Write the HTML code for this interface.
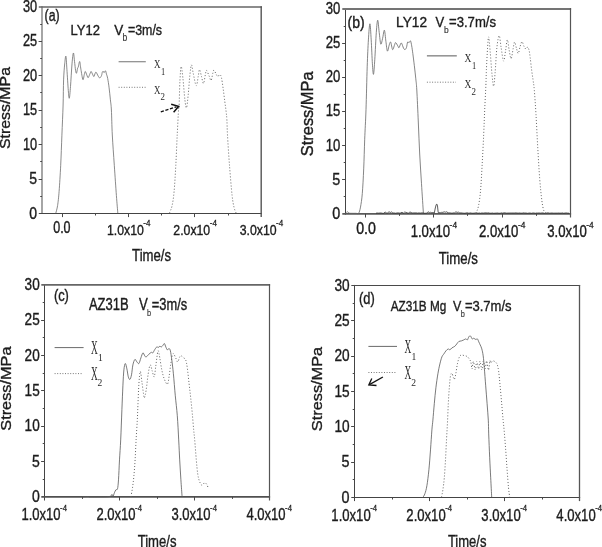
<!DOCTYPE html>
<html><head><meta charset="utf-8"><title>Stress-time curves</title>
<style>
html,body{margin:0;padding:0;background:#fff;}
body{width:602px;height:547px;overflow:hidden;}
svg{display:block;}
text{font-family:"Liberation Sans",sans-serif;fill:#1c1c1c;stroke:#1c1c1c;stroke-width:0.38px;}
text.s{stroke-width:0.15px;fill:#333;stroke:#333}
text.x{font-family:"Liberation Serif",serif;fill:#2a2a2a;stroke:none;}
text.s2{stroke-width:0.3px;}
</style></head><body>
<svg width="602" height="547" viewBox="0 0 602 547">
<rect width="602" height="547" fill="#fff"/>
<path d="M42.00,6.15V214.05" stroke="#6a6a6a" stroke-width="1.2" fill="none"/>
<path d="M38.80,213.50H261.90" stroke="#444" stroke-width="1.1" fill="none"/>
<path d="M38.80,6.90H261.90" stroke="#666" stroke-width="1.5" fill="none"/>
<path d="M261.20,6.15V217.10" stroke="#555" stroke-width="1.4" fill="none"/>
<path d="M62.50,213.50v3.6M128.50,213.50v3.6M194.50,213.50v3.6M95.50,213.50v2.0M161.50,213.50v2.0M228.50,213.50v2.0M42.00,179.50h-3.4M42.00,144.50h-3.4M42.00,110.50h-3.4M42.00,75.50h-3.4M42.00,41.50h-3.4M42.00,196.50h-1.8M42.00,161.50h-1.8M42.00,127.50h-1.8M42.00,92.50h-1.8M42.00,58.50h-1.8M42.00,24.50h-1.8" fill="none" stroke="#484848" stroke-width="1"/>
<text x="29.30" y="218.50" font-size="15.6" textLength="7.80" lengthAdjust="spacingAndGlyphs">0</text>
<text x="29.30" y="184.07" font-size="15.6" textLength="7.80" lengthAdjust="spacingAndGlyphs">5</text>
<text x="22.90" y="149.63" font-size="15.6" textLength="14.20" lengthAdjust="spacingAndGlyphs">10</text>
<text x="22.90" y="115.20" font-size="15.6" textLength="14.20" lengthAdjust="spacingAndGlyphs">15</text>
<text x="22.90" y="80.77" font-size="15.6" textLength="14.20" lengthAdjust="spacingAndGlyphs">20</text>
<text x="22.90" y="46.33" font-size="15.6" textLength="14.20" lengthAdjust="spacingAndGlyphs">25</text>
<text x="22.90" y="11.90" font-size="15.6" textLength="14.20" lengthAdjust="spacingAndGlyphs">30</text>
<text x="53.20" y="232.60" font-size="15.6" textLength="17.40" lengthAdjust="spacingAndGlyphs">0.0</text>
<text x="106.90" y="235.40" font-size="14.7" textLength="36.92" lengthAdjust="spacingAndGlyphs">1.0x10</text>
<text x="143.32" y="226.20" font-size="9.8" textLength="7.18" lengthAdjust="spacingAndGlyphs" class="s2">-4</text>
<text x="173.30" y="235.40" font-size="14.7" textLength="36.92" lengthAdjust="spacingAndGlyphs">2.0x10</text>
<text x="209.72" y="226.20" font-size="9.8" textLength="7.18" lengthAdjust="spacingAndGlyphs" class="s2">-4</text>
<text x="239.70" y="235.40" font-size="14.7" textLength="36.92" lengthAdjust="spacingAndGlyphs">3.0x10</text>
<text x="276.12" y="226.20" font-size="9.8" textLength="7.18" lengthAdjust="spacingAndGlyphs" class="s2">-4</text>
<text x="132.10" y="261.20" font-size="15.6" textLength="39.00" lengthAdjust="spacingAndGlyphs">Time/s</text>
<text transform="translate(9.90,149.00) rotate(-90) scale(1,0.88)" font-size="15.6" textLength="82.00" lengthAdjust="spacingAndGlyphs">Stress/MPa</text>
<text x="44.60" y="20.60" font-size="15.6" textLength="15.10" lengthAdjust="spacingAndGlyphs">(a)</text>
<text x="70.50" y="34.80" font-size="14.8" textLength="29.40" lengthAdjust="spacingAndGlyphs">LY12</text>
<text x="114.30" y="34.80" font-size="14.8" textLength="9.00" lengthAdjust="spacingAndGlyphs">V</text>
<text x="122.60" y="40.60" font-size="10.2" textLength="4.70" lengthAdjust="spacingAndGlyphs" class="s">b</text>
<text x="127.90" y="34.80" font-size="14.8" textLength="34.20" lengthAdjust="spacingAndGlyphs">=3m/s</text>
<path d="M118.6,61.7H145.8" stroke="#8a8a8a" stroke-width="1.2"/>
<path d="M118.6,87.3H145.8" stroke="#777" stroke-width="1.0" stroke-dasharray="1 1.6"/>
<text class="x" transform="translate(154.00,68.20) scale(0.72,1.0)" font-size="12.5">X</text>
<text class="x" transform="translate(160.90,74.70) scale(0.8,1.05)" font-size="10.5">1</text>
<text class="x" transform="translate(154.00,93.50) scale(0.72,1.0)" font-size="12.5">X</text>
<text class="x" transform="translate(160.40,100.10) scale(0.85,1.05)" font-size="10.5">2</text>
<path d="M55.80,213.20 C56.10,211.92 57.05,209.13 57.60,205.50 C58.15,201.87 58.58,198.10 59.10,191.40 C59.62,184.70 60.23,174.67 60.70,165.30 C61.17,155.93 61.50,145.25 61.90,135.20 C62.30,125.15 62.82,114.22 63.10,105.00 C63.38,95.78 63.33,86.75 63.60,79.90 C63.87,73.05 64.32,67.85 64.70,63.90 C65.08,59.95 65.53,55.32 65.90,56.20 C66.27,57.08 66.50,63.48 66.90,69.20 C67.30,74.92 67.90,85.67 68.30,90.50 C68.70,95.33 68.93,98.87 69.30,98.20 C69.67,97.53 70.05,92.22 70.50,86.50 C70.95,80.78 71.52,69.48 72.00,63.90 C72.48,58.32 72.98,53.43 73.40,53.00 C73.82,52.57 74.13,58.37 74.50,61.30 C74.87,64.23 75.27,68.62 75.60,70.60 C75.93,72.58 76.17,73.60 76.50,73.20 C76.83,72.80 77.30,69.25 77.60,68.20 C77.90,67.15 77.95,68.02 78.30,66.90 C78.65,65.78 79.27,61.12 79.70,61.50 C80.13,61.88 80.37,66.18 80.90,69.20 C81.43,72.22 82.33,78.72 82.90,79.60 C83.47,80.48 83.90,75.85 84.30,74.50 C84.70,73.15 84.87,71.38 85.30,71.50 C85.73,71.62 86.42,74.18 86.90,75.20 C87.38,76.22 87.65,77.93 88.20,77.60 C88.75,77.27 89.70,74.22 90.20,73.20 C90.70,72.18 90.77,71.23 91.20,71.50 C91.63,71.77 92.35,73.97 92.80,74.80 C93.25,75.63 93.50,76.77 93.90,76.50 C94.30,76.23 94.82,73.90 95.20,73.20 C95.58,72.50 95.70,71.82 96.20,72.30 C96.70,72.78 97.60,75.17 98.20,76.10 C98.80,77.03 99.25,77.98 99.80,77.90 C100.35,77.82 101.07,76.60 101.50,75.60 C101.93,74.60 102.07,72.57 102.40,71.90 C102.73,71.23 103.22,71.48 103.50,71.60 C103.78,71.72 103.77,72.73 104.10,72.60 C104.43,72.47 105.12,70.58 105.50,70.80 C105.88,71.02 106.03,72.62 106.40,73.90 C106.77,75.18 107.25,76.18 107.70,78.50 C108.15,80.82 108.65,84.25 109.10,87.80 C109.55,91.35 110.02,96.10 110.40,99.80 C110.78,103.50 111.08,104.13 111.40,110.00 C111.72,115.87 111.82,125.78 112.30,135.00 C112.78,144.22 113.62,155.22 114.30,165.30 C114.98,175.38 115.82,187.55 116.40,195.50 C116.98,203.45 117.57,210.08 117.80,213.00" fill="none" stroke="#6c6c6c" stroke-width="0.8" stroke-linejoin="round"/>
<path d="M169.50,213.00 C169.93,211.77 171.33,209.18 172.10,205.60 C172.87,202.02 173.48,198.20 174.10,191.50 C174.72,184.80 175.28,174.78 175.80,165.40 C176.32,156.02 176.73,144.60 177.20,135.20 C177.67,125.80 178.28,113.80 178.60,109.00 C178.92,104.20 178.88,110.98 179.10,106.40 C179.32,101.82 179.55,88.13 179.90,81.50 C180.25,74.87 180.70,67.15 181.20,66.60 C181.70,66.05 182.28,72.67 182.90,78.20 C183.52,83.73 184.30,94.87 184.90,99.80 C185.50,104.73 185.95,108.63 186.50,107.80 C187.05,106.97 187.63,100.28 188.20,94.80 C188.77,89.32 189.35,79.88 189.90,74.90 C190.45,69.92 190.95,65.18 191.50,64.90 C192.05,64.62 192.42,69.73 193.20,73.20 C193.98,76.67 195.37,85.15 196.20,85.70 C197.03,86.25 197.65,79.18 198.20,76.50 C198.75,73.82 198.95,69.60 199.50,69.60 C200.05,69.60 200.83,74.18 201.50,76.50 C202.17,78.82 202.87,83.77 203.50,83.50 C204.13,83.23 204.80,77.08 205.30,74.90 C205.80,72.72 205.88,70.27 206.50,70.40 C207.12,70.53 208.23,74.03 209.00,75.70 C209.77,77.37 210.47,80.82 211.10,80.40 C211.73,79.98 212.32,74.90 212.80,73.20 C213.28,71.50 213.45,70.05 214.00,70.20 C214.55,70.35 215.47,73.05 216.10,74.10 C216.73,75.15 217.18,76.42 217.80,76.50 C218.42,76.58 219.20,74.45 219.80,74.60 C220.40,74.75 220.85,75.13 221.40,77.40 C221.95,79.67 222.53,84.18 223.10,88.20 C223.67,92.22 224.30,97.63 224.80,101.50 C225.30,105.37 225.75,108.32 226.10,111.40 C226.45,114.48 226.67,116.03 226.90,120.00 C227.13,123.97 227.07,127.63 227.50,135.20 C227.93,142.77 228.73,155.35 229.50,165.40 C230.27,175.45 231.33,188.47 232.10,195.50 C232.87,202.53 233.43,204.68 234.10,207.60 C234.77,210.52 235.77,212.10 236.10,213.00" fill="none" stroke="#666" stroke-width="1.0" stroke-dasharray="1 2"/>
<path d="M160.8,111.8L176.5,106.8" stroke="#111" stroke-width="1.4" stroke-dasharray="3.2 1.6" fill="none"/>
<path d="M171.2,104.3L178.6,106.4L173.6,112.3" stroke="#111" stroke-width="1.5" fill="none"/>
<path d="M345.50,8.05V214.70" stroke="#444" stroke-width="1.0" fill="none"/>
<path d="M342.30,213.90H571.10" stroke="#5a5a5a" stroke-width="1.6" fill="none"/>
<path d="M342.30,9.00H571.10" stroke="#747474" stroke-width="1.9" fill="none"/>
<path d="M570.50,8.05V217.50" stroke="#555" stroke-width="1.2" fill="none"/>
<path d="M365.50,213.90v3.6M433.50,213.90v3.6M502.50,213.90v3.6M399.50,213.90v2.0M467.50,213.90v2.0M536.50,213.90v2.0M345.50,179.50h-3.4M345.50,145.50h-3.4M345.50,111.50h-3.4M345.50,77.50h-3.4M345.50,43.50h-3.4M345.50,196.50h-1.8M345.50,162.50h-1.8M345.50,128.50h-1.8M345.50,94.50h-1.8M345.50,60.50h-1.8M345.50,26.50h-1.8" fill="none" stroke="#484848" stroke-width="1"/>
<text x="332.30" y="218.90" font-size="15.6" textLength="8.00" lengthAdjust="spacingAndGlyphs">0</text>
<text x="332.30" y="184.75" font-size="15.6" textLength="8.00" lengthAdjust="spacingAndGlyphs">5</text>
<text x="325.70" y="150.60" font-size="15.6" textLength="14.60" lengthAdjust="spacingAndGlyphs">10</text>
<text x="325.70" y="116.45" font-size="15.6" textLength="14.60" lengthAdjust="spacingAndGlyphs">15</text>
<text x="325.70" y="82.30" font-size="15.6" textLength="14.60" lengthAdjust="spacingAndGlyphs">20</text>
<text x="325.70" y="48.15" font-size="15.6" textLength="14.60" lengthAdjust="spacingAndGlyphs">25</text>
<text x="325.70" y="14.00" font-size="15.6" textLength="14.60" lengthAdjust="spacingAndGlyphs">30</text>
<text x="356.20" y="233.80" font-size="15.7" textLength="19.70" lengthAdjust="spacingAndGlyphs">0.0</text>
<text x="410.63" y="236.90" font-size="15.7" textLength="39.48" lengthAdjust="spacingAndGlyphs">1.0x10</text>
<text x="449.61" y="227.80" font-size="9.8" textLength="7.42" lengthAdjust="spacingAndGlyphs" class="s2">-4</text>
<text x="478.96" y="236.90" font-size="15.7" textLength="39.48" lengthAdjust="spacingAndGlyphs">2.0x10</text>
<text x="517.94" y="227.80" font-size="9.8" textLength="7.42" lengthAdjust="spacingAndGlyphs" class="s2">-4</text>
<text x="547.29" y="236.90" font-size="15.7" textLength="39.48" lengthAdjust="spacingAndGlyphs">3.0x10</text>
<text x="586.27" y="227.80" font-size="9.8" textLength="7.42" lengthAdjust="spacingAndGlyphs" class="s2">-4</text>
<text x="438.80" y="263.50" font-size="15.6" textLength="39.10" lengthAdjust="spacingAndGlyphs">Time/s</text>
<text transform="translate(312.50,156.15) rotate(-90) scale(1,1.03)" font-size="15.6" textLength="84.70" lengthAdjust="spacingAndGlyphs">Stress/MPa</text>
<text x="347.60" y="27.50" font-size="15.6" textLength="17.10" lengthAdjust="spacingAndGlyphs">(b)</text>
<text x="396.10" y="26.70" font-size="14.8" textLength="30.90" lengthAdjust="spacingAndGlyphs">LY12</text>
<text x="435.60" y="26.70" font-size="14.8" textLength="8.70" lengthAdjust="spacingAndGlyphs">V</text>
<text x="444.10" y="32.60" font-size="9.8" textLength="4.70" lengthAdjust="spacingAndGlyphs" class="s">b</text>
<text x="449.00" y="26.70" font-size="14.8" textLength="47.00" lengthAdjust="spacingAndGlyphs">=3.7m/s</text>
<path d="M426.9,55.8H456.8" stroke="#969696" stroke-width="1.6"/>
<path d="M426.9,82.2H456.0" stroke="#777" stroke-width="1.0" stroke-dasharray="1 1.6"/>
<text class="x" transform="translate(464.50,62.20) scale(0.76,1.0)" font-size="12.5">X</text>
<text class="x" transform="translate(472.10,69.20) scale(0.8,1.05)" font-size="10.5">1</text>
<text class="x" transform="translate(464.50,88.10) scale(0.76,1.0)" font-size="12.5">X</text>
<text class="x" transform="translate(471.40,95.10) scale(0.85,1.05)" font-size="10.5">2</text>
<path d="M346.30,212.60 C346.50,212.47 347.05,211.73 347.50,211.80 C347.95,211.87 348.42,212.75 349.00,213.00 C349.58,213.25 349.83,213.25 351.00,213.30 C352.17,213.35 354.73,213.30 356.00,213.30 C357.27,213.30 357.85,214.33 358.60,213.30 C359.35,212.27 359.88,210.40 360.50,207.10 C361.12,203.80 361.77,199.87 362.30,193.50 C362.83,187.13 363.30,177.93 363.70,168.90 C364.10,159.87 364.32,149.17 364.70,139.30 C365.08,129.43 365.58,121.78 366.00,109.70 C366.42,97.62 366.80,78.43 367.20,66.80 C367.60,55.17 367.95,47.07 368.40,39.90 C368.85,32.73 369.43,23.80 369.90,23.80 C370.37,23.80 370.78,33.23 371.20,39.90 C371.62,46.57 372.02,58.07 372.40,63.80 C372.78,69.53 373.10,75.05 373.50,74.30 C373.90,73.55 374.33,66.28 374.80,59.30 C375.27,52.32 375.82,38.92 376.30,32.40 C376.78,25.88 377.22,20.20 377.70,20.20 C378.18,20.20 378.68,28.42 379.20,32.40 C379.72,36.38 380.23,43.10 380.80,44.10 C381.37,45.10 382.00,40.72 382.60,38.40 C383.20,36.08 383.85,29.70 384.40,30.20 C384.95,30.70 385.40,37.92 385.90,41.40 C386.40,44.88 386.85,50.48 387.40,51.10 C387.95,51.72 388.65,46.60 389.20,45.10 C389.75,43.60 390.13,41.35 390.70,42.10 C391.27,42.85 391.95,49.17 392.60,49.60 C393.25,50.03 394.08,45.87 394.60,44.70 C395.12,43.53 395.17,42.40 395.70,42.60 C396.23,42.80 397.25,45.05 397.80,45.90 C398.35,46.75 398.55,48.00 399.00,47.70 C399.45,47.40 400.07,44.85 400.50,44.10 C400.93,43.35 401.10,42.53 401.60,43.20 C402.10,43.87 402.93,47.03 403.50,48.10 C404.07,49.17 404.50,49.72 405.00,49.60 C405.50,49.48 406.07,48.65 406.50,47.40 C406.93,46.15 407.17,42.90 407.60,42.10 C408.03,41.30 408.62,42.80 409.10,42.60 C409.58,42.40 410.07,40.35 410.50,40.90 C410.93,41.45 411.32,43.82 411.70,45.90 C412.08,47.98 412.37,50.17 412.80,53.40 C413.23,56.63 413.80,61.07 414.30,65.30 C414.80,69.53 415.38,74.68 415.80,78.80 C416.22,82.92 416.38,82.80 416.80,90.00 C417.22,97.20 417.82,111.33 418.30,122.00 C418.78,132.67 419.17,143.72 419.70,154.00 C420.23,164.28 420.88,173.82 421.50,183.70 C422.12,193.58 423.08,208.37 423.40,213.30" fill="none" stroke="#666" stroke-width="0.8" stroke-linejoin="round"/>
<path d="M376.00,213.18 L377.30,213.03 L378.60,213.12 L379.90,213.00 L381.20,212.99 L382.50,213.27 L383.80,213.29 L385.10,211.96 L386.40,212.89 L387.70,212.93 L389.00,211.71 L390.30,212.55 L391.60,211.96 L392.90,213.06 L394.20,212.98 L395.50,213.22 L396.80,212.98 L398.10,212.87 L399.40,213.04 L400.70,212.93 L402.00,212.23 L403.30,213.20 L404.60,212.09 L405.90,212.35 L407.20,212.82 L408.50,213.25 L409.80,211.92 L411.10,212.54 L412.40,212.94 L413.70,212.86 L415.00,212.94 L416.30,212.84 L417.60,213.10 L418.90,212.90 L420.20,213.08 L421.50,212.83 L422.80,212.86 L424.10,213.25 L425.40,213.23 L426.70,213.19 L428.00,211.76 L429.30,212.60 L430.60,212.30 L431.90,212.82 L433.20,212.49 L434.30,213.00 L435.30,208.00 L436.20,204.60 L436.90,204.10 L437.50,206.00 L438.20,212.50 L439.00,212.68 L440.30,212.74 L441.60,212.36 L442.90,212.37 L444.20,211.85 L445.50,212.21 L446.80,211.81 L448.10,212.87 L449.40,212.80 L450.70,212.96 L452.00,213.22 L453.30,212.87 L454.60,212.82 L455.90,211.85 L457.20,212.39 L458.50,212.16 L459.80,212.96 L461.10,212.88 L462.40,213.01 L463.70,213.16 L465.00,213.27 L466.30,212.87 L467.60,212.81 L468.90,213.26 L470.20,212.90 L471.50,213.09 L472.80,213.22 L474.10,213.15 L475.40,212.92 L476.70,212.86 L478.00,213.28 L479.30,212.99 L480.60,213.28 L481.90,212.94 L483.20,213.13 L484.50,212.86 L485.80,212.81 L487.10,213.05 L488.40,212.80 L489.70,213.15 L491.00,213.26 L492.30,213.00 L493.60,213.28 L494.90,213.20 L496.20,213.10 L497.50,212.99 L498.80,213.22 L500.10,213.28 L501.40,212.87 L502.70,213.14 L504.00,212.82 L505.30,212.85 L506.60,213.11 L507.90,213.07 L509.20,213.04 L510.50,212.98 L511.80,213.00 L513.10,213.02 L514.40,212.99 L515.70,212.83 L517.00,213.05 L518.30,213.08 L519.60,212.94 L520.90,213.18 L522.20,213.15 L523.50,212.81 L524.80,213.04 L526.10,213.03 L527.40,213.29 L528.70,213.09 L530.00,213.01 L531.30,213.29 L532.60,212.99 L533.90,212.98 L535.20,213.27 L536.50,212.99 L537.80,213.07 L539.10,212.96 L540.40,213.12 L541.70,212.95 L543.00,212.93 L544.30,213.29 L545.60,213.27 L546.90,212.96 L548.20,212.82 L549.50,213.17 L550.80,213.07 L552.10,213.00 L553.40,213.14 L554.70,213.12 L556.00,213.14 L557.30,213.12 L558.60,213.00 L559.90,213.15 L561.20,213.11 L562.50,212.91 L563.80,213.29 L565.10,213.02 L566.40,212.93 L567.70,213.14 L569.00,213.19" fill="none" stroke="#333" stroke-width="0.8"/>
<path d="M476.00,213.30 C476.42,212.07 477.75,209.60 478.50,205.90 C479.25,202.20 479.88,198.10 480.50,191.10 C481.12,184.10 481.67,173.37 482.20,163.90 C482.73,154.43 483.28,143.33 483.70,134.30 C484.12,125.27 484.33,117.92 484.70,109.70 C485.07,101.48 485.62,91.65 485.90,85.00 C486.18,78.35 486.12,76.07 486.40,69.80 C486.68,63.53 487.22,52.88 487.60,47.40 C487.98,41.92 488.27,36.15 488.70,36.90 C489.13,37.65 489.65,45.67 490.20,51.90 C490.75,58.13 491.43,68.58 492.00,74.30 C492.57,80.02 493.08,86.45 493.60,86.20 C494.12,85.95 494.55,79.27 495.10,72.80 C495.65,66.33 496.22,53.58 496.90,47.40 C497.58,41.22 498.50,35.70 499.20,35.70 C499.90,35.70 500.37,43.17 501.10,47.40 C501.83,51.63 502.85,60.60 503.60,61.10 C504.35,61.60 504.97,53.93 505.60,50.40 C506.23,46.87 506.80,39.90 507.40,39.90 C508.00,39.90 508.58,47.28 509.20,50.40 C509.82,53.52 510.45,58.85 511.10,58.60 C511.75,58.35 512.52,51.65 513.10,48.90 C513.68,46.15 514.02,42.10 514.60,42.10 C515.18,42.10 515.98,47.02 516.60,48.90 C517.22,50.78 517.72,53.78 518.30,53.40 C518.88,53.02 519.48,48.55 520.10,46.60 C520.72,44.65 521.33,41.70 522.00,41.70 C522.67,41.70 523.42,45.35 524.10,46.60 C524.78,47.85 525.52,49.12 526.10,49.20 C526.68,49.28 527.10,46.90 527.60,47.10 C528.10,47.30 528.67,48.62 529.10,50.40 C529.53,52.18 529.78,54.57 530.20,57.80 C530.62,61.03 531.12,66.05 531.60,69.80 C532.08,73.55 532.65,76.93 533.10,80.30 C533.55,83.67 533.82,84.28 534.30,90.00 C534.78,95.72 535.43,105.15 536.00,114.60 C536.57,124.05 537.08,136.02 537.70,146.70 C538.32,157.38 539.00,169.67 539.70,178.70 C540.40,187.73 541.20,195.55 541.90,200.90 C542.60,206.25 543.17,208.73 543.90,210.80 C544.63,212.87 545.90,212.88 546.30,213.30" fill="none" stroke="#666" stroke-width="1.0" stroke-dasharray="1 2"/>
<path d="M44.50,284.10V500.50" stroke="#444" stroke-width="1.0" fill="none"/>
<path d="M41.30,496.90H270.10" stroke="#505050" stroke-width="1.6" fill="none"/>
<path d="M41.30,284.90H270.10" stroke="#666" stroke-width="1.6" fill="none"/>
<path d="M269.50,284.10V500.50" stroke="#555" stroke-width="1.2" fill="none"/>
<path d="M119.50,496.90v3.6M194.50,496.90v3.6M82.50,496.90v2.0M157.50,496.90v2.0M232.50,496.90v2.0M44.50,461.50h-3.4M44.50,426.50h-3.4M44.50,390.50h-3.4M44.50,355.50h-3.4M44.50,320.50h-3.4M44.50,479.50h-1.8M44.50,443.50h-1.8M44.50,408.50h-1.8M44.50,373.50h-1.8M44.50,337.50h-1.8M44.50,302.50h-1.8" fill="none" stroke="#484848" stroke-width="1"/>
<text x="31.90" y="501.90" font-size="16.6" textLength="7.80" lengthAdjust="spacingAndGlyphs">0</text>
<text x="31.90" y="466.57" font-size="16.6" textLength="7.80" lengthAdjust="spacingAndGlyphs">5</text>
<text x="24.60" y="431.23" font-size="16.6" textLength="15.10" lengthAdjust="spacingAndGlyphs">10</text>
<text x="24.60" y="395.90" font-size="16.6" textLength="15.10" lengthAdjust="spacingAndGlyphs">15</text>
<text x="24.60" y="360.57" font-size="16.6" textLength="15.10" lengthAdjust="spacingAndGlyphs">20</text>
<text x="24.60" y="325.23" font-size="16.6" textLength="15.10" lengthAdjust="spacingAndGlyphs">25</text>
<text x="24.60" y="289.90" font-size="16.6" textLength="15.10" lengthAdjust="spacingAndGlyphs">30</text>
<text x="21.45" y="520.00" font-size="16.6" textLength="39.17" lengthAdjust="spacingAndGlyphs">1.0x10</text>
<text x="60.12" y="511.00" font-size="9.7" textLength="6.83" lengthAdjust="spacingAndGlyphs" class="s2">-4</text>
<text x="96.45" y="520.00" font-size="16.6" textLength="39.17" lengthAdjust="spacingAndGlyphs">2.0x10</text>
<text x="135.12" y="511.00" font-size="9.7" textLength="6.83" lengthAdjust="spacingAndGlyphs" class="s2">-4</text>
<text x="171.45" y="520.00" font-size="16.6" textLength="39.17" lengthAdjust="spacingAndGlyphs">3.0x10</text>
<text x="210.12" y="511.00" font-size="9.7" textLength="6.83" lengthAdjust="spacingAndGlyphs" class="s2">-4</text>
<text x="246.45" y="520.00" font-size="16.6" textLength="39.17" lengthAdjust="spacingAndGlyphs">4.0x10</text>
<text x="285.12" y="511.00" font-size="9.7" textLength="6.83" lengthAdjust="spacingAndGlyphs" class="s2">-4</text>
<text x="137.70" y="546.50" font-size="16.6" textLength="38.80" lengthAdjust="spacingAndGlyphs">Time/s</text>
<text transform="translate(11.20,430.70) rotate(-90) scale(1,0.88)" font-size="16.6" textLength="84.20" lengthAdjust="spacingAndGlyphs">Stress/MPa</text>
<text x="53.90" y="301.20" font-size="16.6" textLength="15.00" lengthAdjust="spacingAndGlyphs">(c)</text>
<text x="88.90" y="309.70" font-size="15.9" textLength="39.70" lengthAdjust="spacingAndGlyphs">AZ31B</text>
<text x="138.90" y="309.70" font-size="15.9" textLength="8.80" lengthAdjust="spacingAndGlyphs">V</text>
<text x="147.10" y="316.00" font-size="9.2" textLength="4.10" lengthAdjust="spacingAndGlyphs" class="s">b</text>
<text x="151.80" y="309.70" font-size="15.9" textLength="35.40" lengthAdjust="spacingAndGlyphs">=3m/s</text>
<path d="M54.6,347.6H83.6" stroke="#6a6a6a" stroke-width="1.0"/>
<path d="M54.6,373.6H82.0" stroke="#777" stroke-width="1.0" stroke-dasharray="1 1.6"/>
<text class="x" transform="translate(91.10,354.30) scale(0.72,1.42)" font-size="13">X</text>
<text class="x" transform="translate(97.90,361.30) scale(1.0,1.18)" font-size="9.6">1</text>
<text class="x" transform="translate(91.10,379.80) scale(0.72,1.42)" font-size="13">X</text>
<text class="x" transform="translate(97.40,386.30) scale(1.0,1.18)" font-size="9.6">2</text>
<path d="M82.00,496.90 C83.00,496.83 86.67,496.50 88.00,496.50 C89.33,496.50 88.00,496.83 90.00,496.90 C92.00,496.97 97.00,496.93 100.00,496.90 C103.00,496.87 106.17,496.87 108.00,496.70 C109.83,496.53 110.33,496.28 111.00,495.90 C111.67,495.52 111.67,494.30 112.00,494.40 C112.33,494.50 112.60,496.77 113.00,496.50 C113.40,496.23 113.92,493.92 114.40,492.80 C114.88,491.68 115.38,490.47 115.90,489.80 C116.42,489.13 117.07,490.47 117.50,488.80 C117.93,487.13 118.17,484.62 118.50,479.80 C118.83,474.98 119.13,466.55 119.50,459.90 C119.87,453.25 120.30,448.27 120.70,439.90 C121.10,431.53 121.53,418.72 121.90,409.70 C122.27,400.68 122.57,392.43 122.90,385.80 C123.23,379.17 123.50,373.62 123.90,369.90 C124.30,366.18 124.80,363.67 125.30,363.50 C125.80,363.33 126.40,366.68 126.90,368.90 C127.40,371.12 127.80,375.05 128.30,376.80 C128.80,378.55 129.37,379.73 129.90,379.40 C130.43,379.07 131.00,377.22 131.50,374.80 C132.00,372.38 132.33,367.45 132.90,364.90 C133.47,362.35 134.23,360.00 134.90,359.50 C135.57,359.00 136.23,361.23 136.90,361.90 C137.57,362.57 138.23,364.17 138.90,363.50 C139.57,362.83 140.23,359.67 140.90,357.90 C141.57,356.13 142.25,353.23 142.90,352.90 C143.55,352.57 144.25,355.23 144.80,355.90 C145.35,356.57 145.53,357.17 146.20,356.90 C146.87,356.63 147.93,355.07 148.80,354.30 C149.67,353.53 150.73,352.53 151.40,352.30 C152.07,352.07 152.23,353.37 152.80,352.90 C153.37,352.43 154.13,350.50 154.80,349.50 C155.47,348.50 156.23,347.23 156.80,346.90 C157.37,346.57 157.70,347.60 158.20,347.50 C158.70,347.40 159.27,346.40 159.80,346.30 C160.33,346.20 160.90,347.03 161.40,346.90 C161.90,346.77 162.30,346.05 162.80,345.50 C163.30,344.95 163.90,343.37 164.40,343.60 C164.90,343.83 165.30,345.85 165.80,346.90 C166.30,347.95 166.87,349.63 167.40,349.90 C167.93,350.17 168.50,348.33 169.00,348.50 C169.50,348.67 169.93,349.00 170.40,350.90 C170.87,352.80 171.30,356.08 171.80,359.90 C172.30,363.72 172.82,367.82 173.40,373.80 C173.98,379.78 174.65,388.82 175.30,395.80 C175.95,402.78 176.73,408.35 177.30,415.70 C177.87,423.05 178.30,432.53 178.70,439.90 C179.10,447.27 179.33,453.25 179.70,459.90 C180.07,466.55 180.50,473.63 180.90,479.80 C181.30,485.97 181.90,494.05 182.10,496.90" fill="none" stroke="#585858" stroke-width="0.8" stroke-linejoin="round"/>
<path d="M130.90,496.70 C131.17,495.22 132.00,491.28 132.50,487.80 C133.00,484.32 133.47,480.45 133.90,475.80 C134.33,471.15 134.73,465.88 135.10,459.90 C135.47,453.92 135.73,446.55 136.10,439.90 C136.47,433.25 137.00,425.70 137.30,420.00 C137.60,414.30 137.63,411.73 137.90,405.70 C138.17,399.67 138.50,389.50 138.90,383.80 C139.30,378.10 139.80,371.83 140.30,371.50 C140.80,371.17 141.37,378.08 141.90,381.80 C142.43,385.52 143.08,391.13 143.50,393.80 C143.92,396.47 143.95,398.47 144.40,397.80 C144.85,397.13 145.57,393.78 146.20,389.80 C146.83,385.82 147.53,378.05 148.20,373.90 C148.87,369.75 149.53,365.40 150.20,364.90 C150.87,364.40 151.53,368.92 152.20,370.90 C152.87,372.88 153.60,377.63 154.20,376.80 C154.80,375.97 155.27,369.72 155.80,365.90 C156.33,362.08 156.97,356.40 157.40,353.90 C157.83,351.40 158.00,350.23 158.40,350.90 C158.80,351.57 159.23,354.73 159.80,357.90 C160.37,361.07 161.07,366.42 161.80,369.90 C162.53,373.38 163.27,376.42 164.20,378.80 C165.13,381.18 166.57,384.70 167.40,384.20 C168.23,383.70 168.63,379.18 169.20,375.80 C169.77,372.42 170.27,367.38 170.80,363.90 C171.33,360.42 171.92,356.57 172.40,354.90 C172.88,353.23 173.15,353.40 173.70,353.90 C174.25,354.40 175.03,356.57 175.70,357.90 C176.37,359.23 177.03,362.07 177.70,361.90 C178.37,361.73 179.10,357.90 179.70,356.90 C180.30,355.90 180.63,355.73 181.30,355.90 C181.97,356.07 182.97,357.23 183.70,357.90 C184.43,358.57 185.10,358.23 185.70,359.90 C186.30,361.57 186.73,363.92 187.30,367.90 C187.87,371.88 188.53,378.82 189.10,383.80 C189.67,388.78 190.17,392.82 190.70,397.80 C191.23,402.78 191.80,408.32 192.30,413.70 C192.80,419.08 193.30,425.73 193.70,430.10 C194.10,434.47 194.27,434.93 194.70,439.90 C195.13,444.87 195.80,454.25 196.30,459.90 C196.80,465.55 197.20,470.32 197.70,473.80 C198.20,477.28 198.70,478.97 199.30,480.80 C199.90,482.63 200.73,484.13 201.30,484.80 C201.87,485.47 202.15,485.13 202.70,484.80 C203.25,484.47 203.95,482.90 204.60,482.80 C205.25,482.70 205.93,483.20 206.60,484.20 C207.27,485.20 208.27,488.03 208.60,488.80" fill="none" stroke="#666" stroke-width="1.0" stroke-dasharray="1 2"/>
<path d="M354.50,284.95V501.10" stroke="#444" stroke-width="1.0" fill="none"/>
<path d="M351.30,497.50H580.15" stroke="#444" stroke-width="1.2" fill="none"/>
<path d="M351.30,285.50H580.15" stroke="#4a4a4a" stroke-width="1.1" fill="none"/>
<path d="M579.50,284.95V501.10" stroke="#555" stroke-width="1.3" fill="none"/>
<path d="M429.50,497.50v3.6M504.50,497.50v3.6M392.50,497.50v2.0M467.50,497.50v2.0M542.50,497.50v2.0M354.50,462.50h-3.4M354.50,426.50h-3.4M354.50,391.50h-3.4M354.50,356.50h-3.4M354.50,320.50h-3.4M354.50,479.50h-1.8M354.50,444.50h-1.8M354.50,409.50h-1.8M354.50,373.50h-1.8M354.50,338.50h-1.8M354.50,303.50h-1.8" fill="none" stroke="#484848" stroke-width="1"/>
<text x="341.60" y="502.50" font-size="16.6" textLength="8.00" lengthAdjust="spacingAndGlyphs">0</text>
<text x="341.60" y="467.17" font-size="16.6" textLength="8.00" lengthAdjust="spacingAndGlyphs">5</text>
<text x="334.40" y="431.83" font-size="16.6" textLength="15.20" lengthAdjust="spacingAndGlyphs">10</text>
<text x="334.40" y="396.50" font-size="16.6" textLength="15.20" lengthAdjust="spacingAndGlyphs">15</text>
<text x="334.40" y="361.17" font-size="16.6" textLength="15.20" lengthAdjust="spacingAndGlyphs">20</text>
<text x="334.40" y="325.83" font-size="16.6" textLength="15.20" lengthAdjust="spacingAndGlyphs">25</text>
<text x="334.40" y="290.50" font-size="16.6" textLength="15.20" lengthAdjust="spacingAndGlyphs">30</text>
<text x="331.35" y="520.50" font-size="16.6" textLength="39.34" lengthAdjust="spacingAndGlyphs">1.0x10</text>
<text x="370.19" y="511.20" font-size="9.7" textLength="6.86" lengthAdjust="spacingAndGlyphs" class="s2">-4</text>
<text x="406.35" y="520.50" font-size="16.6" textLength="39.34" lengthAdjust="spacingAndGlyphs">2.0x10</text>
<text x="445.19" y="511.20" font-size="9.7" textLength="6.86" lengthAdjust="spacingAndGlyphs" class="s2">-4</text>
<text x="481.35" y="520.50" font-size="16.6" textLength="39.34" lengthAdjust="spacingAndGlyphs">3.0x10</text>
<text x="520.19" y="511.20" font-size="9.7" textLength="6.86" lengthAdjust="spacingAndGlyphs" class="s2">-4</text>
<text x="556.35" y="520.50" font-size="16.6" textLength="39.34" lengthAdjust="spacingAndGlyphs">4.0x10</text>
<text x="595.19" y="511.20" font-size="9.7" textLength="6.86" lengthAdjust="spacingAndGlyphs" class="s2">-4</text>
<text x="447.90" y="547.40" font-size="16.6" textLength="38.60" lengthAdjust="spacingAndGlyphs">Time/s</text>
<text transform="translate(321.50,431.20) rotate(-90) scale(1,0.9)" font-size="16.6" textLength="84.40" lengthAdjust="spacingAndGlyphs">Stress/MPa</text>
<text x="359.00" y="304.00" font-size="16.6" textLength="15.70" lengthAdjust="spacingAndGlyphs">(d)</text>
<text x="390.70" y="311.10" font-size="15.2" textLength="55.60" lengthAdjust="spacingAndGlyphs">AZ31B Mg</text>
<text x="453.00" y="311.10" font-size="15.2" textLength="8.30" lengthAdjust="spacingAndGlyphs">V</text>
<text x="460.80" y="316.60" font-size="9.2" textLength="4.10" lengthAdjust="spacingAndGlyphs" class="s">b</text>
<text x="464.90" y="311.10" font-size="15.2" textLength="46.70" lengthAdjust="spacingAndGlyphs">=3.7m/s</text>
<path d="M368.4,346.4H397.0" stroke="#6a6a6a" stroke-width="1.0"/>
<path d="M368.4,372.5H396.0" stroke="#777" stroke-width="1.0" stroke-dasharray="1 1.6"/>
<text class="x" transform="translate(404.40,353.00) scale(0.72,1.42)" font-size="13">X</text>
<text class="x" transform="translate(411.60,359.80) scale(1.0,1.18)" font-size="9.6">1</text>
<text class="x" transform="translate(404.40,378.80) scale(0.72,1.42)" font-size="13">X</text>
<text class="x" transform="translate(411.30,385.80) scale(1.0,1.18)" font-size="9.6">2</text>
<path d="M423.00,497.30 C423.32,496.70 424.25,495.63 424.90,493.70 C425.55,491.77 426.23,489.68 426.90,485.70 C427.57,481.72 428.30,475.77 428.90,469.80 C429.50,463.83 430.00,456.55 430.50,449.90 C431.00,443.25 431.50,434.87 431.90,429.90 C432.30,424.93 432.50,424.47 432.90,420.10 C433.30,415.73 433.80,409.08 434.30,403.70 C434.80,398.32 435.30,392.78 435.90,387.80 C436.50,382.82 437.23,377.78 437.90,373.80 C438.57,369.82 439.23,366.72 439.90,363.90 C440.57,361.08 441.23,358.57 441.90,356.90 C442.57,355.23 443.23,354.90 443.90,353.90 C444.57,352.90 445.17,351.73 445.90,350.90 C446.63,350.07 447.63,349.07 448.30,348.90 C448.97,348.73 449.30,350.07 449.90,349.90 C450.50,349.73 451.08,348.50 451.90,347.90 C452.72,347.30 453.98,346.97 454.80,346.30 C455.62,345.63 456.13,344.70 456.80,343.90 C457.47,343.10 458.03,342.00 458.80,341.50 C459.57,341.00 460.57,341.17 461.40,340.90 C462.23,340.63 463.07,340.23 463.80,339.90 C464.53,339.57 465.20,338.90 465.80,338.90 C466.40,338.90 466.90,340.23 467.40,339.90 C467.90,339.57 468.30,337.57 468.80,336.90 C469.30,336.23 469.83,335.57 470.40,335.90 C470.97,336.23 471.63,338.50 472.20,338.90 C472.77,339.30 473.20,338.20 473.80,338.30 C474.40,338.40 475.20,339.40 475.80,339.50 C476.40,339.60 476.90,338.50 477.40,338.90 C477.90,339.30 478.33,340.90 478.80,341.90 C479.27,342.90 479.70,343.73 480.20,344.90 C480.70,346.07 481.30,347.07 481.80,348.90 C482.30,350.73 482.78,352.75 483.20,355.90 C483.62,359.05 483.88,362.82 484.30,367.80 C484.72,372.78 485.23,379.82 485.70,385.80 C486.17,391.78 486.67,397.98 487.10,403.70 C487.53,409.42 488.03,415.07 488.30,420.10 C488.57,425.13 488.47,427.62 488.70,433.90 C488.93,440.18 489.37,450.48 489.70,457.80 C490.03,465.12 490.37,471.22 490.70,477.80 C491.03,484.38 491.53,494.05 491.70,497.30" fill="none" stroke="#585858" stroke-width="0.8" stroke-linejoin="round"/>
<path d="M441.50,497.10 C441.73,495.87 442.43,492.92 442.90,489.70 C443.37,486.48 443.87,482.78 444.30,477.80 C444.73,472.82 445.13,466.12 445.50,459.80 C445.87,453.48 446.17,446.20 446.50,439.90 C446.83,433.60 447.20,428.03 447.50,422.00 C447.80,415.97 448.00,409.40 448.30,403.70 C448.60,398.00 448.93,392.45 449.30,387.80 C449.67,383.15 450.07,378.20 450.50,375.80 C450.93,373.40 451.40,373.07 451.90,373.40 C452.40,373.73 453.08,376.80 453.50,377.80 C453.92,378.80 454.02,380.07 454.40,379.40 C454.78,378.73 455.30,376.38 455.80,373.80 C456.30,371.22 456.80,366.72 457.40,363.90 C458.00,361.08 458.73,358.40 459.40,356.90 C460.07,355.40 460.67,355.13 461.40,354.90 C462.13,354.67 462.90,355.27 463.80,355.50 C464.70,355.73 465.97,355.83 466.80,356.30 C467.63,356.77 468.13,357.37 468.80,358.30 C469.47,359.23 470.27,360.15 470.80,361.90 C471.33,363.65 471.57,368.85 472.00,368.80 C472.43,368.75 472.85,361.40 473.40,361.60 C473.95,361.80 474.75,370.03 475.30,370.00 C475.85,369.97 476.15,361.63 476.70,361.44 C477.25,361.24 478.05,368.83 478.60,368.80 C479.15,368.77 479.45,361.07 480.00,361.27 C480.55,361.47 481.35,370.03 481.90,370.00 C482.45,369.97 482.75,361.31 483.30,361.11 C483.85,360.91 484.65,368.83 485.20,368.80 C485.75,368.77 486.05,360.74 486.60,360.94 C487.15,361.14 487.95,370.03 488.50,370.00 C489.05,369.97 489.53,361.96 489.90,360.78 C490.27,359.59 490.23,362.88 490.70,362.90 C491.17,362.92 491.93,361.07 492.70,360.90 C493.47,360.73 494.53,361.25 495.30,361.90 C496.07,362.55 496.73,363.15 497.30,364.80 C497.87,366.45 498.23,368.30 498.70,371.80 C499.17,375.30 499.60,380.48 500.10,385.80 C500.60,391.12 501.20,397.98 501.70,403.70 C502.20,409.42 502.70,415.73 503.10,420.10 C503.50,424.47 503.67,424.93 504.10,429.90 C504.53,434.87 505.20,443.25 505.70,449.90 C506.20,456.55 506.63,463.50 507.10,469.80 C507.57,476.10 508.07,483.15 508.50,487.70 C508.93,492.25 509.50,495.53 509.70,497.10" fill="none" stroke="#666" stroke-width="1.0" stroke-dasharray="1 2"/>
<path d="M382.9,377.0L369.4,384.6" stroke="#111" stroke-width="1.3" fill="none"/>
<path d="M371.8,378.4L368.8,385.0L376.5,385.5" stroke="#111" stroke-width="1.3" fill="none"/>
</svg>
</body></html>
